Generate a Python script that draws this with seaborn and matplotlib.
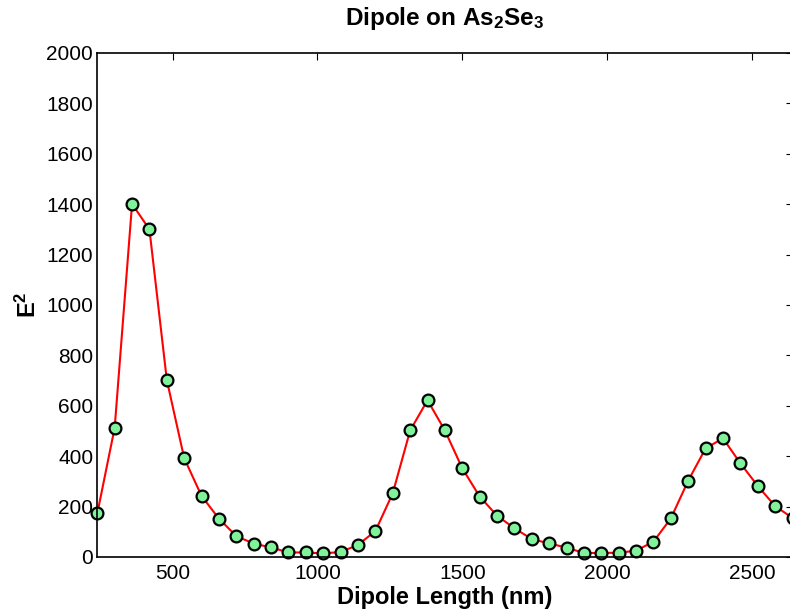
import matplotlib
matplotlib.use("Agg")
import matplotlib.pyplot as plt
import seaborn as sns
import pandas as pd

dipole_length_nm = [240, 300, 360, 420, 480, 540, 600, 660, 720, 780, 840, 900, 960, 1020,
                    1080, 1140, 1200, 1260, 1320, 1380, 1440, 1500, 1560, 1620, 1680, 1740,
                    1800, 1860, 1920, 1980, 2040, 2100, 2160, 2220, 2280, 2340, 2400, 2460,
                    2520, 2580, 2640]
e_squared = [173, 513, 1401, 1300, 702, 392, 242, 152, 83, 53, 38, 18, 18, 14,
             20, 48, 103, 253, 502, 622, 502, 352, 240, 164, 114, 71,
             54, 37, 16, 16, 17, 25, 61, 153, 303, 431, 471, 372,
             282, 202, 155]
x_ticks = [500, 1000, 1500, 2000, 2500]
y_ticks = [0, 200, 400, 600, 800, 1000, 1200, 1400, 1600, 1800, 2000]

sns.set_style("white")
plt.rcParams["font.family"] = ["Liberation Sans", "DejaVu Sans"]
plt.rcParams["mathtext.default"] = "regular"
for k in ["text.color", "axes.labelcolor", "xtick.color", "ytick.color", "axes.edgecolor"]:
    plt.rcParams[k] = "black"

df = pd.DataFrame({"x": dipole_length_nm, "y": e_squared})

fig = plt.figure(figsize=(7.9, 6.14), dpi=100)
ax = fig.add_axes([97.3 / 790, 1 - 557 / 614, (792.5 - 97.3) / 790, (557 - 53) / 614])

sns.lineplot(data=df, x="x", y="y", ax=ax, color="red", linewidth=1.5,
             marker="o", markersize=8.5, markerfacecolor="#80F29A",
             markeredgecolor="black", markeredgewidth=1.6, clip_on=False)

ax.set_xlim(240, 2640)
ax.set_ylim(0, 2000)
ax.set_xticks(x_ticks)
ax.set_yticks(y_ticks)
ax.tick_params(direction="in", length=5, width=0.8, labelsize=15,
               top=True, right=True, colors="black", pad=3)
ax.tick_params(axis="x", pad=5)
for s in ax.spines.values():
    s.set_visible(True)
    s.set_color("black")
    s.set_linewidth(1.2)

ax.set_xlabel("Dipole Length (nm)", fontsize=17, fontweight="bold", labelpad=2)
ax.set_ylabel("E$^2$", fontsize=17, fontweight="bold", labelpad=4)
ax.set_title("Dipole on As$_2$Se$_3$", fontsize=17.5, fontweight="bold", pad=20)

fig.savefig("out.png", dpi=100)
